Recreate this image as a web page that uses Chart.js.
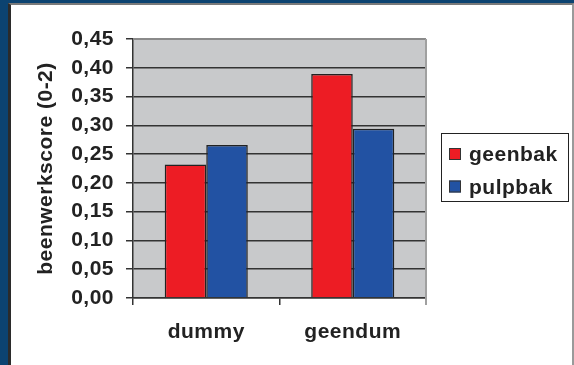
<!DOCTYPE html>
<html>
<head>
<meta charset="utf-8">
<script src="https://cdn.jsdelivr.net/npm/chart.js@4"></script>
<style>
  body { margin: 0; }
  #frame { position: relative; width: 574px; height: 365px; background: #0c4371; overflow: hidden; }
  #sheet { position: absolute; left: 8px; top: 3px; width: 566px; height: 362px; box-sizing: border-box;
           background: #fff; border-left: 3px solid #2b2b2b; border-top: 2px solid #7a7a7a; border-right: 2px solid #9a9a9a; }
  #chart { position: absolute; left: 0; top: 0; }
</style>
</head>
<body>
<div id="frame">
  <div id="sheet"></div>
  <canvas id="chart" width="574" height="365"></canvas>
</div>
<script>
var categories = ["dummy", "geendum"];
var geenbak = [0.232, 0.389];
var pulpbak = [0.266, 0.294];
var yTicks = { min: 0, max: 0.45, step: 0.05 };

var font = "'Liberation Sans', Arial, sans-serif";
var ink = "#222";
var gap = "0.5px";

// canvas letter spacing, the labels are set a little wide
var spacing = {
    id: "spacing",
    beforeUpdate: function (chart) { chart.ctx.letterSpacing = gap; },
    beforeDraw: function (chart) { chart.ctx.letterSpacing = gap; }
};

// grey plot background with its light top/right edge
var plotBg = {
    id: "plotBg",
    beforeDraw: function (chart) {
        var a = chart.chartArea, ctx = chart.ctx;
        ctx.save();
        ctx.fillStyle = "#c8c9cb";
        ctx.fillRect(a.left, a.top, a.right - a.left, a.bottom - a.top);
        ctx.restore();
    },
    afterDraw: function (chart) {
        var a = chart.chartArea, ctx = chart.ctx;
        ctx.save();
        ctx.strokeStyle = "#8a8a8a";
        ctx.lineWidth = 2;
        ctx.beginPath();
        ctx.moveTo(a.left, a.top);
        ctx.lineTo(a.right, a.top);
        ctx.stroke();
        ctx.strokeStyle = "#a0a0a0";
        ctx.beginPath();
        ctx.moveTo(a.right, a.top);
        ctx.lineTo(a.right, a.bottom + 7);
        ctx.stroke();
        ctx.restore();
    }
};

// boxed legend on the right
var boxLegend = {
    id: "boxLegend",
    afterDraw: function (chart) {
        var ctx = chart.ctx;
        ctx.save();
        ctx.letterSpacing = gap;
        ctx.strokeStyle = "#222";
        ctx.lineWidth = 1;
        ctx.strokeRect(441.5, 133.5, 127, 68);
        ctx.font = "bold 21px " + font;
        ctx.textBaseline = "alphabetic";
        chart.data.datasets.forEach(function (ds, i) {
            var y = 148 + i * 32.5;
            ctx.fillStyle = ds.backgroundColor;
            ctx.fillRect(449, y, 12, 12);
            ctx.strokeStyle = "#333";
            ctx.strokeRect(449.5, y + 0.5, 11, 11);
            ctx.fillStyle = ink;
            ctx.fillText(ds.label, 469, y + 13);
        });
        ctx.restore();
    }
};

new Chart(document.getElementById("chart"), {
    type: "bar",
    data: {
        labels: categories,
        datasets: [
            { label: "geenbak", data: geenbak, backgroundColor: "#ed1c24", borderColor: "#222", borderWidth: 1.5 },
            { label: "pulpbak", data: pulpbak, backgroundColor: "#2252a3", borderColor: "#222", borderWidth: 1.5 }
        ]
    },
    options: {
        responsive: false,
        animation: false,
        events: [],
        layout: { padding: { left: 0, top: 39, right: 148, bottom: 0 } },
        datasets: { bar: { barPercentage: 1, categoryPercentage: 0.567 } },
        plugins: { legend: { display: false }, tooltip: { enabled: false } },
        scales: {
            x: {
                afterFit: function (scale) { scale.height = 67; },
                grid: { drawOnChartArea: false, offset: true, tickLength: 7, color: "#333", lineWidth: 1.5 },
                border: { color: "#333", width: 1.5 },
                ticks: { color: ink, padding: 15, font: { family: font, size: 21, weight: "bold" } }
            },
            y: {
                min: yTicks.min,
                max: yTicks.max,
                afterFit: function (scale) { scale.width = 133; },
                grid: { tickLength: 7, color: "#333", lineWidth: 1.5 },
                border: { color: "#333", width: 1.5 },
                ticks: {
                    stepSize: yTicks.step,
                    padding: 12,
                    color: ink,
                    font: { family: font, size: 21, weight: "bold" },
                    callback: function (v) { return v.toFixed(2).replace(".", ","); }
                },
                title: {
                    display: true,
                    text: "beenwerkscore (0-2)",
                    color: ink,
                    padding: { top: 34, bottom: 0 },
                    font: { family: font, size: 21, weight: "bold" }
                }
            }
        }
    },
    plugins: [spacing, plotBg, boxLegend]
});
</script>
</body>
</html>
